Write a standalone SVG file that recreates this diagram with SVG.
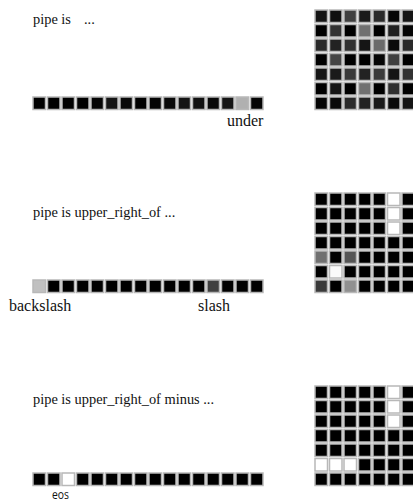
<svg xmlns="http://www.w3.org/2000/svg" width="413" height="504" viewBox="0 0 413 504">
<style>
.t{font-family:"Liberation Serif","Times New Roman",serif;font-size:14.4px;fill:#111}
.l{font-family:"Liberation Serif","Times New Roman",serif;font-size:16px;fill:#111}
.s{font-family:"Open Sans","Liberation Sans",sans-serif;font-size:13px;fill:#111}
.cell{stroke:#b8b8b8;stroke-width:1.5}
</style>
<defs><rect id="c" class="cell" width="12.5" height="12.5"/></defs>
<g id="panel1">
<text class="t" x="33" y="24">pipe is<tspan x="84">...</tspan></text>
<g id="bar1">
<use href="#c" x="33" y="97" fill="#000"/><use href="#c" x="47.5" y="97" fill="#000"/><use href="#c" x="62" y="97" fill="#000"/><use href="#c" x="76.5" y="97" fill="#000"/><use href="#c" x="91" y="97" fill="#050505"/><use href="#c" x="105.5" y="97" fill="#151515"/><use href="#c" x="120" y="97" fill="#0a0a0a"/><use href="#c" x="134.5" y="97" fill="#000"/><use href="#c" x="149" y="97" fill="#050505"/><use href="#c" x="163.5" y="97" fill="#0a0a0a"/><use href="#c" x="178" y="97" fill="#151515"/><use href="#c" x="192.5" y="97" fill="#101010"/><use href="#c" x="207" y="97" fill="#080808"/><use href="#c" x="221.5" y="97" fill="#151515"/><use href="#c" x="236" y="97" fill="#b0b0b0"/><use href="#c" x="250.5" y="97" fill="#050505"/>
</g>
<text class="l" x="227" y="126">under</text>
<g id="grid1">
<use href="#c" x="315" y="10" fill="#151515"/><use href="#c" x="329.5" y="10" fill="#101010"/><use href="#c" x="344" y="10" fill="#404040"/><use href="#c" x="358.5" y="10" fill="#1a1a1a"/><use href="#c" x="373" y="10" fill="#2a2a2a"/><use href="#c" x="387.5" y="10" fill="#050505"/><use href="#c" x="402" y="10" fill="#151515"/>
<use href="#c" x="315" y="24.5" fill="#000"/><use href="#c" x="329.5" y="24.5" fill="#333"/><use href="#c" x="344" y="24.5" fill="#000"/><use href="#c" x="358.5" y="24.5" fill="#707070"/><use href="#c" x="373" y="24.5" fill="#000"/><use href="#c" x="387.5" y="24.5" fill="#202020"/><use href="#c" x="402" y="24.5" fill="#050505"/>
<use href="#c" x="315" y="39" fill="#2a2a2a"/><use href="#c" x="329.5" y="39" fill="#222"/><use href="#c" x="344" y="39" fill="#303030"/><use href="#c" x="358.5" y="39" fill="#151515"/><use href="#c" x="373" y="39" fill="#6a6a6a"/><use href="#c" x="387.5" y="39" fill="#0a0a0a"/><use href="#c" x="402" y="39" fill="#2a2a2a"/>
<use href="#c" x="315" y="53.5" fill="#000"/><use href="#c" x="329.5" y="53.5" fill="#454545"/><use href="#c" x="344" y="53.5" fill="#000"/><use href="#c" x="358.5" y="53.5" fill="#000"/><use href="#c" x="373" y="53.5" fill="#050505"/><use href="#c" x="387.5" y="53.5" fill="#404040"/><use href="#c" x="402" y="53.5" fill="#000"/>
<use href="#c" x="315" y="68" fill="#151515"/><use href="#c" x="329.5" y="68" fill="#1a1a1a"/><use href="#c" x="344" y="68" fill="#3a3a3a"/><use href="#c" x="358.5" y="68" fill="#222"/><use href="#c" x="373" y="68" fill="#3a3a3a"/><use href="#c" x="387.5" y="68" fill="#151515"/><use href="#c" x="402" y="68" fill="#333"/>
<use href="#c" x="315" y="82.5" fill="#000"/><use href="#c" x="329.5" y="82.5" fill="#151515"/><use href="#c" x="344" y="82.5" fill="#000"/><use href="#c" x="358.5" y="82.5" fill="#707070"/><use href="#c" x="373" y="82.5" fill="#000"/><use href="#c" x="387.5" y="82.5" fill="#303030"/><use href="#c" x="402" y="82.5" fill="#000"/>
<use href="#c" x="315" y="97" fill="#050505"/><use href="#c" x="329.5" y="97" fill="#0a0a0a"/><use href="#c" x="344" y="97" fill="#2a2a2a"/><use href="#c" x="358.5" y="97" fill="#222"/><use href="#c" x="373" y="97" fill="#1a1a1a"/><use href="#c" x="387.5" y="97" fill="#0a0a0a"/><use href="#c" x="402" y="97" fill="#151515"/>
</g>
</g>
<g id="panel2">
<text class="t" x="33" y="217">pipe is upper_right_of ...</text>
<g id="bar2" fill="#000">
<use href="#c" x="33" y="280" fill="#c0c0c0"/><use href="#c" x="47.5" y="280"/><use href="#c" x="62" y="280"/><use href="#c" x="76.5" y="280"/><use href="#c" x="91" y="280"/><use href="#c" x="105.5" y="280"/><use href="#c" x="120" y="280"/><use href="#c" x="134.5" y="280"/><use href="#c" x="149" y="280"/><use href="#c" x="163.5" y="280"/><use href="#c" x="178" y="280"/><use href="#c" x="192.5" y="280"/><use href="#c" x="207" y="280" fill="#404040"/><use href="#c" x="221.5" y="280"/><use href="#c" x="236" y="280"/><use href="#c" x="250.5" y="280"/>
</g>
<text class="l" x="9" y="311">backslash</text>
<text class="l" x="198" y="311">slash</text>
<g id="grid2" fill="#000">
<use href="#c" x="315" y="193"/><use href="#c" x="329.5" y="193"/><use href="#c" x="344" y="193"/><use href="#c" x="358.5" y="193"/><use href="#c" x="373" y="193"/><use href="#c" x="387.5" y="193" fill="#fff"/><use href="#c" x="402" y="193"/>
<use href="#c" x="315" y="207.5"/><use href="#c" x="329.5" y="207.5"/><use href="#c" x="344" y="207.5"/><use href="#c" x="358.5" y="207.5"/><use href="#c" x="373" y="207.5"/><use href="#c" x="387.5" y="207.5" fill="#fff"/><use href="#c" x="402" y="207.5"/>
<use href="#c" x="315" y="222"/><use href="#c" x="329.5" y="222"/><use href="#c" x="344" y="222"/><use href="#c" x="358.5" y="222"/><use href="#c" x="373" y="222"/><use href="#c" x="387.5" y="222" fill="#fff"/><use href="#c" x="402" y="222"/>
<use href="#c" x="315" y="236.5"/><use href="#c" x="329.5" y="236.5"/><use href="#c" x="344" y="236.5"/><use href="#c" x="358.5" y="236.5"/><use href="#c" x="373" y="236.5"/><use href="#c" x="387.5" y="236.5"/><use href="#c" x="402" y="236.5"/>
<use href="#c" x="315" y="251" fill="#707070"/><use href="#c" x="329.5" y="251"/><use href="#c" x="344" y="251" fill="#555"/><use href="#c" x="358.5" y="251"/><use href="#c" x="373" y="251"/><use href="#c" x="387.5" y="251"/><use href="#c" x="402" y="251"/>
<use href="#c" x="315" y="265.5"/><use href="#c" x="329.5" y="265.5" fill="#fafafa"/><use href="#c" x="344" y="265.5"/><use href="#c" x="358.5" y="265.5"/><use href="#c" x="373" y="265.5"/><use href="#c" x="387.5" y="265.5"/><use href="#c" x="402" y="265.5"/>
<use href="#c" x="315" y="280" fill="#3a3a3a"/><use href="#c" x="329.5" y="280"/><use href="#c" x="344" y="280" fill="#909090"/><use href="#c" x="358.5" y="280"/><use href="#c" x="373" y="280"/><use href="#c" x="387.5" y="280"/><use href="#c" x="402" y="280"/>
</g>
</g>
<g id="panel3">
<text class="t" x="33" y="404">pipe is upper_right_of minus ...</text>
<g id="bar3" fill="#000">
<use href="#c" x="33" y="473"/><use href="#c" x="47.5" y="473"/><use href="#c" x="62" y="473" fill="#fff"/><use href="#c" x="76.5" y="473"/><use href="#c" x="91" y="473"/><use href="#c" x="105.5" y="473"/><use href="#c" x="120" y="473"/><use href="#c" x="134.5" y="473"/><use href="#c" x="149" y="473"/><use href="#c" x="163.5" y="473"/><use href="#c" x="178" y="473"/><use href="#c" x="192.5" y="473"/><use href="#c" x="207" y="473"/><use href="#c" x="221.5" y="473"/><use href="#c" x="236" y="473"/><use href="#c" x="250.5" y="473"/>
</g>
<text class="s" x="52" y="499" textLength="17" lengthAdjust="spacingAndGlyphs">eos</text>
<g id="grid3" fill="#000">
<use href="#c" x="315" y="386"/><use href="#c" x="329.5" y="386"/><use href="#c" x="344" y="386"/><use href="#c" x="358.5" y="386"/><use href="#c" x="373" y="386"/><use href="#c" x="387.5" y="386" fill="#fff"/><use href="#c" x="402" y="386"/>
<use href="#c" x="315" y="400.5"/><use href="#c" x="329.5" y="400.5"/><use href="#c" x="344" y="400.5"/><use href="#c" x="358.5" y="400.5"/><use href="#c" x="373" y="400.5"/><use href="#c" x="387.5" y="400.5" fill="#fff"/><use href="#c" x="402" y="400.5"/>
<use href="#c" x="315" y="415"/><use href="#c" x="329.5" y="415"/><use href="#c" x="344" y="415"/><use href="#c" x="358.5" y="415"/><use href="#c" x="373" y="415"/><use href="#c" x="387.5" y="415" fill="#fff"/><use href="#c" x="402" y="415"/>
<use href="#c" x="315" y="429.5"/><use href="#c" x="329.5" y="429.5"/><use href="#c" x="344" y="429.5"/><use href="#c" x="358.5" y="429.5"/><use href="#c" x="373" y="429.5"/><use href="#c" x="387.5" y="429.5"/><use href="#c" x="402" y="429.5"/>
<use href="#c" x="315" y="444"/><use href="#c" x="329.5" y="444"/><use href="#c" x="344" y="444"/><use href="#c" x="358.5" y="444"/><use href="#c" x="373" y="444"/><use href="#c" x="387.5" y="444"/><use href="#c" x="402" y="444"/>
<use href="#c" x="315" y="458.5" fill="#fff"/><use href="#c" x="329.5" y="458.5" fill="#fff"/><use href="#c" x="344" y="458.5" fill="#fff"/><use href="#c" x="358.5" y="458.5"/><use href="#c" x="373" y="458.5"/><use href="#c" x="387.5" y="458.5"/><use href="#c" x="402" y="458.5"/>
<use href="#c" x="315" y="473"/><use href="#c" x="329.5" y="473"/><use href="#c" x="344" y="473"/><use href="#c" x="358.5" y="473"/><use href="#c" x="373" y="473"/><use href="#c" x="387.5" y="473"/><use href="#c" x="402" y="473"/>
</g>
</g>
</svg>
